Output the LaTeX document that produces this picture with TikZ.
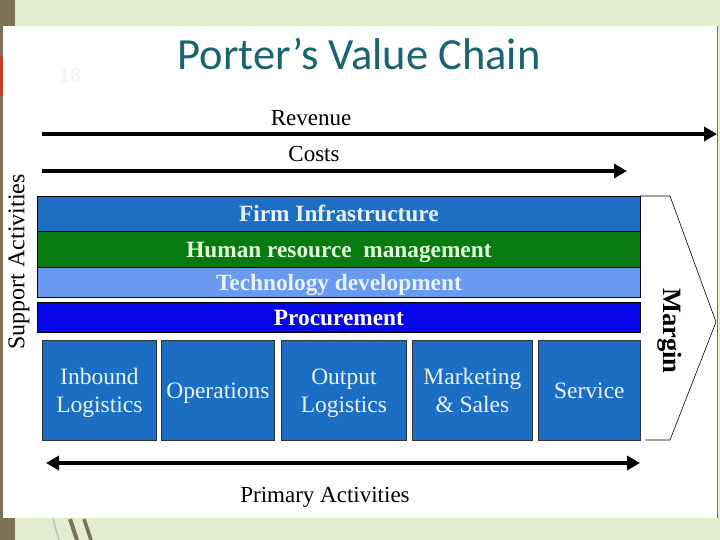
\documentclass[tikz,border=0pt]{standalone}
\usepackage{fontspec}
\setmainfont{Liberation Serif}
\newfontfamily\titlefont{Carlito}
\usetikzlibrary{arrows.meta}
\definecolor{bgGreen}{HTML}{E4ECD0}
\definecolor{stripDark}{HTML}{7B7257}
\definecolor{stripRed}{HTML}{C0402A}
\definecolor{titleTeal}{HTML}{18646F}
\definecolor{firmBlue}{HTML}{1E6EC3}
\definecolor{hrGreen}{HTML}{087A12}
\definecolor{techBlue}{HTML}{6A9AF0}
\definecolor{procBlue}{HTML}{0606E8}
\definecolor{primBlue}{HTML}{1C6EC4}
\definecolor{paleText}{HTML}{EAF2FF}
\definecolor{paleGreenText}{HTML}{E2FFDC}
\newcommand\bxstrut{\rule[-6pt]{0pt}{28pt}}
\tikzset{
  supbar/.style={draw=black, line width=0.8pt, anchor=north west, inner sep=0pt,
    minimum width=603pt, text height=17pt, text depth=1pt,
    font=\bfseries\fontsize{23.3}{25}\selectfont, text=paleText},
  primbox/.style={draw=black!80, line width=0.8pt, fill=primBlue, anchor=north west, inner sep=0pt,
    minimum height=100pt, align=center, text=paleText, font=\fontsize{23.5}{28}\selectfont},
  lbl/.style={font=\fontsize{23}{26}\selectfont, anchor=base, inner sep=0pt},
  bigarrow/.style={line width=4pt, -{Triangle[length=13pt,width=14pt]}},
  dblarrow/.style={line width=4pt, {Triangle[length=13pt,width=14pt]}-{Triangle[length=13pt,width=14pt]}},
  marginline/.style={draw=black, line width=0.6pt}
}
\begin{document}
\begin{tikzpicture}[x=1pt,y=-1pt]
\useasboundingbox (0,0) rectangle (720,540);
% background
\fill[bgGreen] (0,0) rectangle (720,540);
\fill[stripDark] (0,0) rectangle (15,540);
\fill[stripRed] (0,56) rectangle (3,96);
% bottom-left decoration
\draw[line width=1.5pt, black!25] (53,519) -- (59,540);
\draw[line width=4pt, stripDark] (70,519) -- (77,540);
\draw[line width=3.5pt, stripDark] (84,519) -- (91,540);
% white panel
\fill[white] (3,26) rectangle (717,518);
\draw[black!55, line width=0.8pt] (717,26) -- (717,518);
% slide number
\node[font=\sffamily\bfseries\fontsize{20}{22}\selectfont, text=black!4] (slideno) at (70,76) {18};
% title
\node[font=\titlefont\fontsize{44.5}{48}\selectfont, text=titleTeal, anchor=base] (title) at (359,70) {Porter’s Value Chain};
% revenue and costs
\node[lbl] (rev) at (311,126) {Revenue};
\coordinate (revL) at (42,134);
\coordinate (revR) at (717,134);
\draw[bigarrow] (revL) -- (revR);
\node[lbl] (cost) at (314,162) {Costs};
\coordinate (costL) at (42,171);
\coordinate (costR) at (627,171);
\draw[bigarrow] (costL) -- (costR);
% support activities
\node[supbar, fill=firmBlue, minimum height=35pt] (firm) at (37,196) {Firm Infrastructure};
\node[supbar, fill=hrGreen, minimum height=36pt, text=paleGreenText] (hr) at (37,231) {Human resource\ \ management};
\node[supbar, fill=techBlue, minimum height=30pt] (tech) at (37,267) {Technology development};
\node[supbar, fill=procBlue, minimum height=30pt, text=white] (proc) at (37,302) {Procurement};
\node[font=\fontsize{24}{26}\selectfont, rotate=90, inner sep=0pt] (support) at (19,262) {Support Activities};
% primary activities
\node[primbox, minimum width=114pt] (inb) at (42,340) {\bxstrut Inbound\\\bxstrut Logistics};
\node[primbox, minimum width=113pt] (ops) at (161,340) {\bxstrut Operations};
\node[primbox, minimum width=125pt] (out) at (281,340) {\bxstrut Output\\\bxstrut Logistics};
\node[primbox, minimum width=120pt] (mkt) at (412,340) {\bxstrut Marketing\\\bxstrut \& Sales};
\node[primbox, minimum width=102pt] (srv) at (538,340) {\bxstrut Service};
\coordinate (primL) at (46,463);
\coordinate (primR) at (640,463);
\draw[dblarrow] (primL) -- (primR);
\node[lbl] (primary) at (325,502) {Primary Activities};
% margin
\coordinate (m1) at (640,196);
\coordinate (m2) at (670,196);
\coordinate (m3) at (716,322);
\coordinate (m4) at (670,440);
\coordinate (m5) at (645,440);
\draw[marginline] (m1) -- (m2) -- (m3) -- (m4) -- (m5);
\node[font=\bfseries\fontsize{26.5}{28}\selectfont, rotate=-90, inner sep=0pt] (margin) at (670,331) {Margin};
\end{tikzpicture}
\end{document}
